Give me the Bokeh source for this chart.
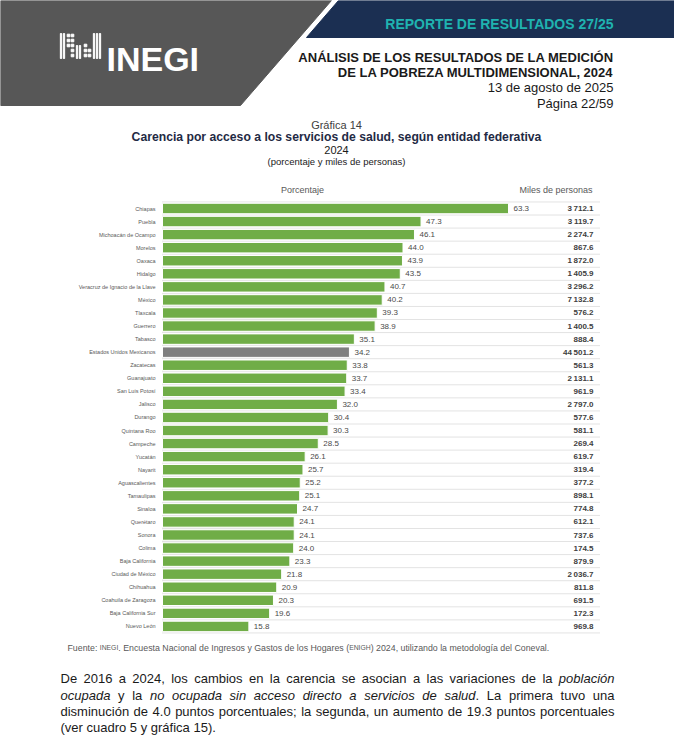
from bokeh.plotting import figure
from bokeh.models import ColumnDataSource, Range1d
from bokeh.transform import dodge
from bokeh.core.properties import value
from bokeh.embed import file_html
from bokeh.resources import INLINE

# ---------------- data ----------------
states = ["Chiapas", "Puebla", "Michoacán de Ocampo", "Morelos", "Oaxaca", "Hidalgo",
          "Veracruz de Ignacio de la Llave", "México", "Tlaxcala", "Guerrero", "Tabasco",
          "Estados Unidos Mexicanos", "Zacatecas", "Guanajuato", "San Luis Potosí", "Jalisco",
          "Durango", "Quintana Roo", "Campeche", "Yucatán", "Nayarit", "Aguascalientes",
          "Tamaulipas", "Sinaloa", "Querétaro", "Sonora", "Colima", "Baja California",
          "Ciudad de México", "Chihuahua", "Coahuila de Zaragoza", "Baja California Sur",
          "Nuevo León"]
porcentaje = [63.3, 47.3, 46.1, 44.0, 43.9, 43.5, 40.7, 40.2, 39.3, 38.9, 35.1,
              34.2, 33.8, 33.7, 33.4, 32.0, 30.4, 30.3, 28.5, 26.1, 25.7, 25.2,
              25.1, 24.7, 24.1, 24.1, 24.0, 23.3, 21.8, 20.9, 20.3, 19.6, 15.8]
miles = [3712.1, 3119.7, 2274.7, 867.6, 1872.0, 1405.9, 3296.2, 7132.8, 576.2, 1400.5, 888.4,
         44501.2, 561.3, 2131.1, 961.9, 2797.0, 577.6, 581.1, 269.4, 619.7, 319.4, 377.2,
         898.1, 774.8, 612.1, 737.6, 174.5, 879.9, 2036.7, 811.8, 691.5, 172.3, 969.8]
national = "Estados Unidos Mexicanos"

GREEN = "#70ad47"
GREY_BAR = "#7f7f7f"
FONT = "Liberation Sans"

W, H = 674, 748

# page coordinates (reference pixels) for the main ranges
p = figure(width=W, height=H, x_range=Range1d(0, W), y_range=Range1d(H, 0),
           output_backend="svg", toolbar_location=None, x_axis_location=None,
           y_axis_location=None, min_border=0, outline_line_color=None)
p.grid.visible = False

# chart scales: percentage axis (0 at the bar baseline) and row index axis
PX_PER_PCT = 5.466
X0_PAGE = 162.0
ROW0_PAGE, ROW_STEP = 208.0, 13.06
p.extra_x_ranges = {"pct": Range1d((0 - X0_PAGE) / PX_PER_PCT, (W - X0_PAGE) / PX_PER_PCT)}
p.extra_y_ranges = {"row": Range1d((H - ROW0_PAGE) / ROW_STEP, (0 - ROW0_PAGE) / ROW_STEP)}
X_END = (600 - X0_PAGE) / PX_PER_PCT

# Arial / Liberation Sans advance widths (1/1000 em) for text layout
_AW = {" ": 278, "(": 333, ")": 333, ",": 278, ".": 278, ";": 278, ":": 278, "-": 333,
       "A": 667, "B": 667, "C": 722, "D": 722, "E": 667, "F": 611, "G": 778, "H": 722,
       "I": 278, "L": 556, "N": 722, "O": 778, "R": 722, "S": 667, "T": 611, "U": 722,
       "a": 556, "b": 556, "c": 500, "d": 556, "e": 556, "f": 278, "g": 556, "h": 556,
       "i": 222, "j": 222, "k": 500, "l": 222, "m": 833, "n": 556, "o": 556, "p": 556,
       "q": 556, "r": 333, "s": 500, "t": 278, "u": 556, "v": 500, "w": 722, "x": 500,
       "y": 500, "z": 500, "á": 556, "é": 556, "í": 278, "ó": 556, "ú": 556}


def text_width(s, size):
    return sum(_AW.get(c, 556) for c in s) * size / 1000.0


def fmt_miles(v):
    return f"{v:,.1f}".replace(",", "\u2009")


def txt(x, y, t, size, color="#000000", style="normal", align="left",
        baseline="middle", font=FONT):
    p.text(x=[x], y=[y], text=[t], text_font=value(font), text_font_size=value(f"{size}px"),
           text_font_style=style, text_color=color, text_align=align,
           text_baseline=baseline)


# ---------------- header ----------------
p.patch(x=[0, 331, 240, 0], y=[0, 0, 105, 105], color="#575757")
p.patch(x=[338, 680, 680, 306], y=[0, 0, 37, 37], color="#1b2f52")

# logo icon (approximation)
for ix in [60.5, 63.5, 93.5, 96.5, 99.5]:
    p.rect(x=[ix], y=[45.5], width=1.3, height=25, color="white")
for ix in [76.5, 79.5]:
    p.rect(x=[ix], y=[51.5], width=1.3, height=13, color="white")
dots = [(68, 35), (68, 40), (68, 45), (72, 35), (72, 40), (72, 45), (72, 50), (72, 55),
        (85, 45), (85, 50), (85, 55), (89, 50), (89, 55)]
p.rect(x=[d[0] for d in dots], y=[d[1] for d in dots], width=2.6, height=2.6, color="white")
txt(106, 58.5, "INEGI", 34, color="white", style="bold", baseline="alphabetic")

txt(613, 23, "REPORTE DE RESULTADOS 27/25", 14, color="#1fb3b0", style="bold", align="right")
txt(613, 57, "ANÁLISIS DE LOS RESULTADOS DE LA MEDICIÓN", 13, color="#1a1a1a", style="bold", align="right")
txt(613, 72, "DE LA POBREZA MULTIDIMENSIONAL, 2024", 13, color="#1a1a1a", style="bold", align="right")
txt(613, 87, "13 de agosto de 2025", 13, color="#1a1a1a", align="right")
txt(613, 103, "Página 22/59", 13, color="#1a1a1a", align="right")

txt(336, 124, "Gráfica 14", 11, color="#404040", align="center")
txt(336, 136, "Carencia por acceso a los servicios de salud, según entidad federativa",
    12.2, color="#1f2a44", style="bold", align="center")
txt(336, 149, "2024", 11, color="#1a1a1a", align="center")
txt(336, 161, "(porcentaje y miles de personas)", 9.5, color="#1a1a1a", align="center")
txt(302, 189, "Porcentaje", 9, color="#595959", align="center")
txt(592, 189, "Miles de personas", 9, color="#595959", align="right")

# ---------------- chart ----------------
rows = list(range(len(states)))
src = ColumnDataSource(dict(
    row=rows,
    state=states,
    pct=porcentaje,
    pct_lbl=[f"{v:.1f}" for v in porcentaje],
    miles_lbl=[fmt_miles(v) for v in miles],
    color=[GREY_BAR if s == national else GREEN for s in states],
    xend=[X_END] * len(states),
    x0=[0] * len(states),
))
top_src = ColumnDataSource(dict(row=[0], x0=[0], xend=[X_END]))

sep = dodge("row", 0.5)
p.segment(x0="x0", x1="xend", y0=sep, y1=sep, source=src,
          x_range_name="pct", y_range_name="row",
          line_color="#c6c6c6", line_dash="1 1", line_width=1)
sep_top = dodge("row", -0.5)
p.segment(x0="x0", x1="xend", y0=sep_top, y1=sep_top, source=top_src,
          x_range_name="pct", y_range_name="row",
          line_color="#c6c6c6", line_dash="1 1", line_width=1)

p.hbar(y="row", left=0, right="pct", height=0.8, fill_color="color",
       line_color="white", line_width=1, source=src,
       x_range_name="pct", y_range_name="row")
p.text(x="pct", y="row", text="pct_lbl", x_offset=5, source=src,
       x_range_name="pct", y_range_name="row",
       text_font=value(FONT), text_font_size=value("8px"), text_color="#4a4a4a",
       text_baseline="middle", text_align="left")
p.text(x="xend", y="row", text="miles_lbl", x_offset=-7, source=src,
       x_range_name="pct", y_range_name="row",
       text_font=value(FONT), text_font_size=value("8px"), text_font_style="bold",
       text_color="#404040", text_baseline="middle", text_align="right")
# category labels
p.text(x="x0", y="row", text="state", x_offset=-7, source=src,
       x_range_name="pct", y_range_name="row",
       text_font=value(FONT), text_font_size=value("5.5px"), text_color="#595959",
       text_baseline="middle", text_align="right")

# ---------------- footer ----------------
# source line with small caps acronyms
FS, FSC = 8.8, 6.8
x = 67
for seg, sz in [("Fuente: ", FS), ("INEGI", FSC),
                (". Encuesta Nacional de Ingresos y Gastos de los Hogares (", FS),
                ("ENIGH", FSC), (") 2024, utilizando la metodología del Coneval.", FS)]:
    txt(x, 647, seg, sz, color="#595959")
    x += text_width(seg, sz)

# justified paragraph: each word is a list of (text, style) segments
BODY = 13
BC = "#1a1a1a"
L, R = 60, 614
N, I = "normal", "italic"


def words(s, style):
    return [[(w, style)] for w in s.split()]


para = [
    (words("De 2016 a 2024, los cambios en la carencia se asocian a las variaciones de la", N)
     + words("población", I), 678, True),
    (words("ocupada", I) + words("y la", N)
     + words("no ocupada sin acceso directo a servicios de", I)
     + [[("salud", I), (".", N)]] + words("La primera tuvo una", N), 695, True),
    (words("disminución de 4.0 puntos porcentuales; la segunda, un aumento de 19.3 puntos porcentuales", N),
     711, True),
    (words("(ver cuadro 5 y gráfica 15).", N), 727, False),
]

for wlist, y, justify in para:
    widths = [sum(text_width(t, BODY) for t, _ in w) for w in wlist]
    if justify:
        gap = (R - L - sum(widths)) / (len(wlist) - 1)
    else:
        gap = text_width(" ", BODY)
    x = L
    for w, wd in zip(wlist, widths):
        xx = x
        for t, st in w:
            txt(xx, y, t, BODY, BC, style=st)
            xx += text_width(t, BODY)
        x += wd + gap

open("out.html", "w").write(file_html(p, INLINE))
